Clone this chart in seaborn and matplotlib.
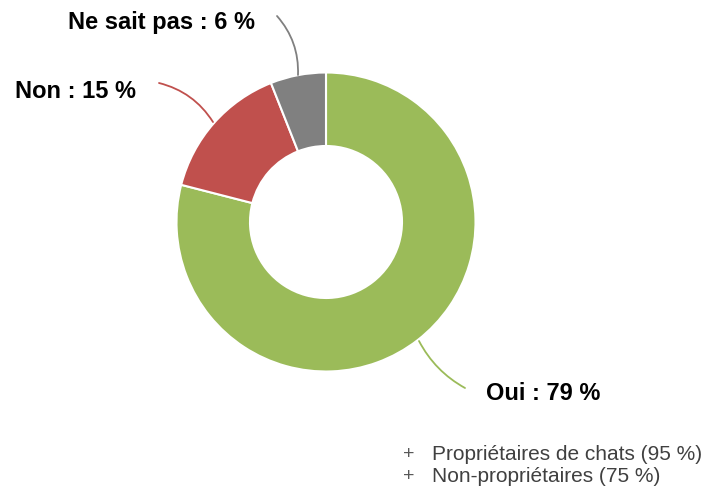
import numpy as np
import seaborn as sns
import matplotlib.pyplot as plt

# data
categories = ["Oui", "Non", "Ne sait pas"]
shares = [79, 15, 6]
colours = ["#9BBB59", "#C0504D", "#808080"]
legend_labels = ["Propriétaires de chats (95 %)", "Non-propriétaires (75 %)"]

sns.set_style("white")
plt.rcParams['font.family'] = ['Liberation Sans', 'DejaVu Sans']

W, H = 711, 489
fig = plt.figure(figsize=(W / 100, H / 100), dpi=100)
ax = fig.add_axes([0, 0, 1, 1])

cx, cy, R = 326, H - 223, 149.5
pal = sns.color_palette(colours)
wedges, _ = ax.pie(shares, colors=pal, startangle=90, counterclock=False,
                   center=(cx, cy), radius=R, frame=True,
                   wedgeprops=dict(width=R - 76, edgecolor='white', linewidth=1.5))
ax.set_xlim(0, W)
ax.set_ylim(0, H)
ax.set_aspect('equal')
ax.axis('off')

# labels with curved leader lines (positions in px from top)
label_pos = {
    "Oui": ((486, 394), 'left', (419, 342), (465, 389), -0.15),
    "Non": ((136, 92), 'right', (213, 123), (159, 84), -0.2),
    "Ne sait pas": ((255, 23), 'right', (298, 76), (277, 17), -0.2),
}
for cat, val, col in zip(categories, shares, colours):
    (tx, ty), ha, (px, py), (lx, ly), rad = label_pos[cat]
    ax.text(tx, H - ty, f"{cat} : {val} %", ha=ha, va='center',
            fontsize=17, fontweight='bold', color='black')
    ax.annotate("", xy=(px, H - py), xytext=(lx, H - ly),
                arrowprops=dict(arrowstyle='-', color=col, lw=1.3,
                                connectionstyle=f"arc3,rad={rad}",
                                shrinkA=0, shrinkB=0))

# legend text with "+" markers
for i, lab in enumerate(legend_labels):
    y = H - (455 + 22 * i)
    ax.text(409, y, "+", ha='center', va='center', fontsize=14, color='#595959')
    ax.text(432, y, lab, ha='left', va='center', fontsize=15, color='#404040')

fig.savefig("out.png", dpi=100)
